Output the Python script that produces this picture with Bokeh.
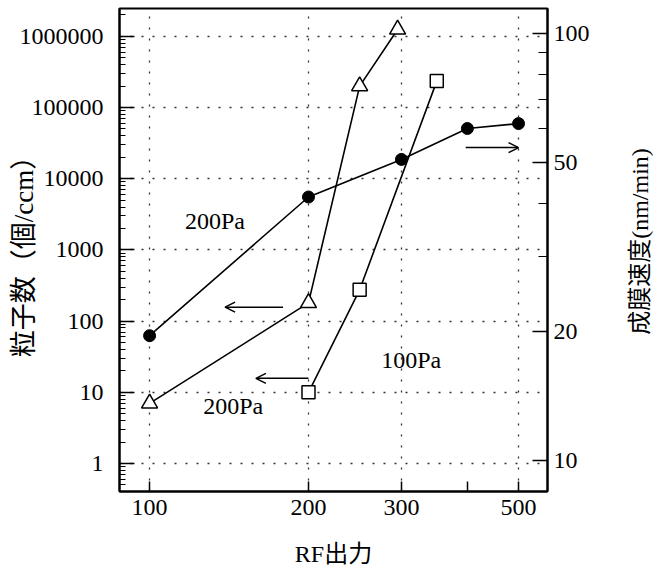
import math
from bokeh.plotting import figure
from bokeh.models import (Range1d, LogAxis, LogScale, FixedTicker, NumeralTickFormatter,
                          ColumnDataSource, Arrow, OpenHead, Label)
from bokeh.core.properties import value
from bokeh.embed import file_html
from bokeh.resources import INLINE

# ---- axis ticks / labels ----
rf_power_ticks = [100, 200, 300, 400, 500]
rf_power_tick_labels = ["100", "200", "300", "", "500"]
rf_power_grid = [100, 200, 300, 500]
count_ticks = [1, 10, 100, 1000, 10000, 100000, 1000000]
count_tick_labels = ["1", "10", "100", "1000", "10000", "100000", "1000000"]
rate_ticks = [10, 20, 50, 100]
rate_tick_labels = ["10", "20", "50", "100"]
rate_minor_ticks = [30, 40, 60, 70, 80, 90]

x_title = "RF出力"
y_left_title = "粒子数（個/ccm）"
y_right_title = "成膜速度(nm/min)"

# ---- data ----
# particle count at 200 Pa (open triangles, left axis)
power_200pa = [100, 200, 250, 295]
count_200pa = [7, 180, 200000, 1250000]
# particle count at 100 Pa (open squares, left axis)
power_100pa = [200, 250, 350]
count_100pa = [10, 275, 235000]
# deposition rate at 200 Pa (filled circles, right axis)
power_rate = [100, 200, 300, 400, 500]
rate_200pa = [19.6, 41.4, 50.7, 59.9, 61.5]

# ---- annotations (data coordinates on the left axis) ----
label_text = ["200Pa", "200Pa", "100Pa"]
label_x = [133, 144, 313]
label_y = [2560, 6.35, 28.2]
arrow_x_start = [179, 200, 397]
arrow_x_end = [139, 159, 500]
arrow_y = [157, 15.7, 27350]

SERIF = "Liberation Serif"
MIXED = "'Liberation Serif', 'Noto Sans CJK JP'"

p = figure(width=656, height=574, x_axis_type="log", y_axis_type="log",
           x_range=Range1d(87.7, 567.3), y_range=Range1d(0.404, 2.46e6),
           output_backend="svg", toolbar_location=None,
           min_border_left=119, min_border_right=109, min_border_top=8, min_border_bottom=83,
           background_fill_color="white", border_fill_color="white")
p.outline_line_color = "black"
p.outline_line_width = 2

p.extra_y_ranges = {"rate": Range1d(8.46, 114.4)}
p.extra_y_scales = {"rate": LogScale()}
right = LogAxis(y_range_name="rate",
                ticker=FixedTicker(ticks=rate_ticks, minor_ticks=rate_minor_ticks),
                formatter=NumeralTickFormatter(format="0"))
right.major_label_overrides = dict(zip(rate_ticks, rate_tick_labels))
p.add_layout(right, "right")

xa = p.xaxis[0]
ya = p.yaxis[0]
xa.ticker = FixedTicker(ticks=rf_power_ticks)
xa.major_label_overrides = dict(zip(rf_power_ticks, rf_power_tick_labels))
ya_minor = [k * 10.0 ** d for d in range(-1, 7) for k in range(2, 10)]
ya.ticker = FixedTicker(ticks=count_ticks, minor_ticks=ya_minor)
ya.formatter = NumeralTickFormatter(format="0")
ya.major_label_overrides = dict(zip(count_ticks, count_tick_labels))

for ax in (xa, ya, right):
    ax.major_label_text_font = SERIF
    ax.major_label_text_font_size = "24px"
    ax.major_label_text_color = "black"
    ax.axis_label_text_font = MIXED
    ax.axis_label_text_font_size = "24px"
    ax.axis_label_text_font_style = "normal"
    ax.axis_label_text_color = "black"
    ax.axis_line_color = "black"
    ax.axis_line_width = 2
    ax.major_tick_line_color = "black"
    ax.major_tick_line_width = 1.5
    ax.minor_tick_line_color = "black"
    ax.minor_tick_line_width = 1
    ax.major_tick_out = 0
    ax.minor_tick_out = 0

xa.axis_label = x_title
xa.major_tick_in = 10
xa.minor_tick_line_color = None
xa.major_label_standoff = 8
xa.axis_label_standoff = 23

ya.axis_label = y_left_title
ya.axis_label_text_font_size = "27px"
ya.major_tick_in = 15
ya.minor_tick_in = 6
ya.major_label_standoff = 16
ya.axis_label_standoff = -22

right.major_tick_in = 15
right.minor_tick_in = 9
right.major_label_standoff = 6

p.xgrid.ticker = FixedTicker(ticks=rf_power_grid)
p.ygrid.ticker = FixedTicker(ticks=count_ticks)
for g in (p.xgrid, p.ygrid):
    g.grid_line_color = "#333333"
    g.grid_line_dash = "2 9"
    g.grid_line_width = 1.3

# deposition rate (right axis)
p.line(power_rate, rate_200pa, y_range_name="rate", line_color="black", line_width=1.6)
p.scatter(power_rate, rate_200pa, y_range_name="rate", marker="circle", size=12,
          fill_color="black", line_color="black")

# particle counts
p.line(power_200pa, count_200pa, line_color="black", line_width=1.6)
p.line(power_100pa, count_100pa, line_color="black", line_width=1.6)
p.scatter(power_200pa, count_200pa, marker="triangle", size=16, fill_color="white",
          line_color="black", line_width=1.5)
p.scatter(power_100pa, count_100pa, marker="square", size=13, fill_color="white",
          line_color="black", line_width=1.5)

p.text(x=label_x, y=label_y, text=label_text, text_font=value(SERIF),
       text_font_size="24px", text_align="center", text_baseline="middle",
       text_color="black")

arrow_src = ColumnDataSource(dict(x0=arrow_x_start, x1=arrow_x_end, y=arrow_y))
p.add_layout(Arrow(end=OpenHead(size=10, line_width=1.5, line_color="black"),
                   x_start="x0", y_start="y", x_end="x1", y_end="y",
                   source=arrow_src, line_width=1.5, line_color="black"))

# right-hand title, reading bottom-to-top, placed in the right side panel
p.add_layout(Label(x=47, y=250, x_units="screen", y_units="screen", text=y_right_title,
                   angle=math.pi / 2, text_align="center", text_baseline="middle",
                   text_font=MIXED, text_font_size="24px", text_color="black"), "right")

open("out.html", "w").write(file_html(p, INLINE))
